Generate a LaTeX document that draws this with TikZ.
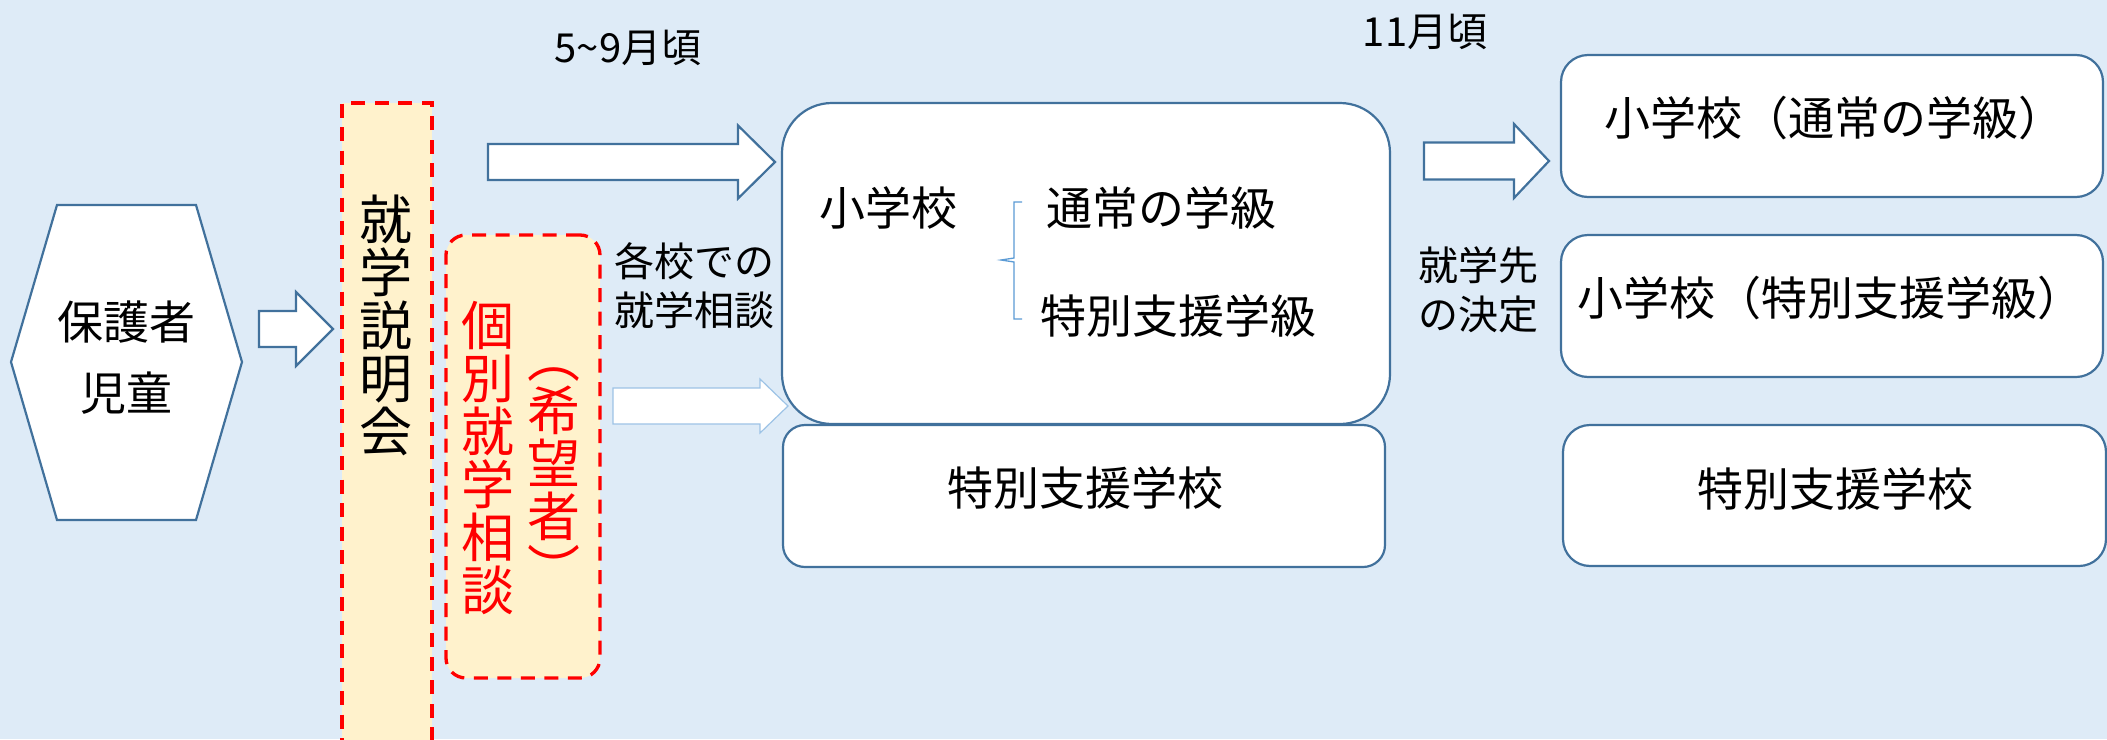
\documentclass[tikz,border=0pt]{standalone}
\usepackage{fontspec}
\setmainfont{Noto Sans CJK JP}
\usepackage{tikz}
\usetikzlibrary{calc}
\definecolor{bg}{HTML}{DEEBF7}
\definecolor{outline}{HTML}{41719C}
\definecolor{lightline}{HTML}{9DC3E6}
\definecolor{bracket}{HTML}{5B9BD5}
\definecolor{cream}{HTML}{FFF2CC}
\definecolor{alert}{HTML}{FF0000}
\tikzset{
  box/.style={draw=outline, line width=2.2pt, fill=white, rounded corners=#1, inner sep=0pt},
  box/.default=27pt,
  dashbox/.style={draw=alert, line width=3.3pt, fill=cream, dash pattern=on 14pt off 9.5pt, rounded corners=#1, inner sep=0pt},
  dashbox/.default=0pt,
  barrow/.style={draw=outline, line width=2.2pt, fill=white, line join=miter},
  barrowlight/.style={draw=lightline, line width=1.2pt, fill=white},
  lbl/.style={inner sep=0pt, align=center, font=\fontsize{40}{49}\selectfont},
  txt/.style={inner sep=0pt, align=center, font=\fontsize{46}{71}\selectfont},
  vtxt/.style={inner sep=0pt, align=center, font=\fontsize{53}{53}\selectfont}
}
\newcommand{\BlockArrow}[6]{% style, tail, tip, shaft half width, head half width, head length
  \draw[#1] let \p1=(#2), \p2=(#3) in
    (\x1,\y2+#4) -- (\x2-#6,\y2+#4) -- (\x2-#6,\y2+#5) -- (\x2,\y2) --
    (\x2-#6,\y2-#5) -- (\x2-#6,\y2-#4) -- (\x1,\y2-#4) -- cycle;
}

\begin{document}
\begin{tikzpicture}[x=1pt,y=-1pt]
  \useasboundingbox (0,0) rectangle (2107,739);
  \fill[bg] (0,0) rectangle (2107,739);
  \clip (0,0) rectangle (2107,739);

  % guardians / child
  \draw[outline, line width=2.2pt, fill=white] (11,362) -- (57,205) -- (196,205) -- (242,362) -- (196,520) -- (57,520) -- cycle;
  \node[txt] (parents) at (126,358) {保護者\\児童};

  % briefing and individual consultation
  \node[dashbox, minimum width=90pt, minimum height=642pt] (seminar) at (387,424) {};
  \node[vtxt] (seminartxt) at (386,325) {就\\学\\説\\明\\会};
  \node[dashbox=20pt, minimum width=154pt, minimum height=443pt] (consult) at (523,456.5) {};
  \node[vtxt, text=alert] (consulttxt) at (488,458) {個\\別\\就\\学\\相\\談};
  \node[vtxt, text=alert] (wishtxt) at (554,479) {︵\\希\\望\\者\\︶};

  % schools during consultation
  \node[box=50pt, minimum width=608pt, minimum height=321pt] (school) at (1086,263.5) {};
  \node[box=22pt, minimum width=602pt, minimum height=142pt] (special) at (1084,496) {};
  \node[txt] (elem) at (888,208) {小学校};
  \node[txt] (regular) at (1161,208) {通常の学級};
  \node[txt] (spclass) at (1178,316) {特別支援学級};
  \node[txt] (spschool) at (1085,488) {特別支援学校};
  \draw[bracket, line width=1.3pt] (1022,202) -- (1014,202) -- (1014,258) -- (1001,260) -- (1014,262) -- (1014,319) -- (1022,319);

  % decided schools
  \node[box, minimum width=542pt, minimum height=142pt] (reg) at (1832,126) {};
  \node[box, minimum width=542pt, minimum height=142pt] (cls) at (1832,306) {};
  \node[box, minimum width=543pt, minimum height=141pt] (sps) at (1834.5,495.5) {};
  \node[txt] (regtxt) at (1834,118) {小学校（通常の学級）};
  \node[txt] (clstxt) at (1830,298) {小学校（特別支援学級）};
  \node[txt] (spstxt) at (1835,489) {特別支援学校};

  % labels
  \node[lbl] (period1) at (628,48) {5\textasciitilde 9月頃};
  \node[lbl] (period2) at (1425,32) {11月頃};
  \node[lbl] (atschool) at (694,286) {各校での\\就学相談};
  \node[lbl] (decide) at (1478,290) {就学先\\の決定};

  % arrows
  \coordinate (a1t) at (259,329);  \coordinate (a1h) at (333,329);
  \coordinate (a2t) at (488,162);  \coordinate (a2h) at (775,162);
  \coordinate (a3t) at (613,406);  \coordinate (a3h) at (788,406);
  \coordinate (a4t) at (1424,161); \coordinate (a4h) at (1549,161);
  \BlockArrow{barrow}{a1t}{a1h}{18pt}{37pt}{37pt}
  \BlockArrow{barrow}{a2t}{a2h}{18pt}{36.5pt}{37pt}
  \BlockArrow{barrowlight}{a3t}{a3h}{18pt}{27pt}{28pt}
  \BlockArrow{barrow}{a4t}{a4h}{18.5pt}{37pt}{35pt}
\end{tikzpicture}
\end{document}
